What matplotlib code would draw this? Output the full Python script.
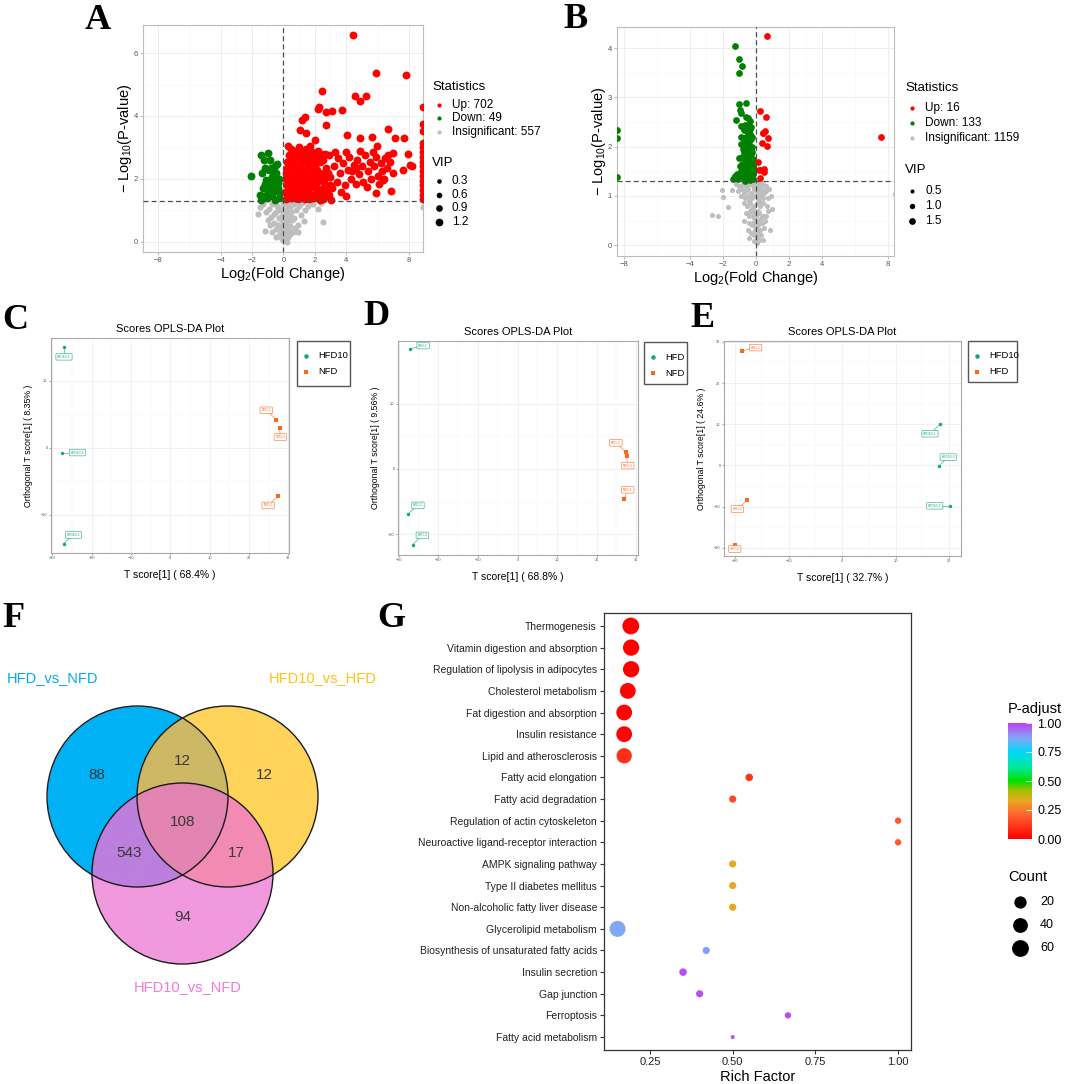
import numpy as np
import matplotlib
matplotlib.use('Agg')
from matplotlib import pyplot as plt
from matplotlib.colors import LinearSegmentedColormap, Normalize, to_rgba
from matplotlib.cm import ScalarMappable
from matplotlib.patches import Circle, Rectangle

plt.rcParams['font.family'] = ['Liberation Sans', 'DejaVu Sans']
plt.rcParams['mathtext.fontset'] = 'custom'
plt.rcParams['mathtext.rm'] = 'Liberation Sans'

SERIF = ['Liberation Serif', 'DejaVu Serif']

# ---------------- data ----------------
# A: volcano HFD vs NFD  (log2 fold change, -log10 p)
a_stats = [702, 49, 557]
a_up = np.array([
    (4.44, 6.56), (5.88, 5.36), (7.79, 5.30), (2.49, 4.80), (4.57, 4.62), (5.25, 4.62), (4.87, 4.47),
    (2.26, 4.29), (2.23, 4.22), (3.12, 4.15), (2.74, 4.13), (3.76, 4.18), (1.19, 3.88), (1.36, 3.97),
    (8.92, 4.29), (8.92, 3.76), (8.92, 3.51), (6.69, 3.59), (2.74, 3.72), (1.05, 3.54), (7.70, 3.31),
    (7.10, 3.31), (5.67, 3.32), (4.04, 3.41), (4.91, 3.30), (2.00, 3.25), (1.47, 3.46), (5.97, 3.04),
    (6.98, 2.83), (7.93, 2.80), (7.60, 2.30), (8.05, 2.43), (8.20, 2.40), (5.88, 1.56), (6.87, 1.61),
    (3.05, 1.32), (4.00, 1.45), (6.35, 1.98), (2.32, 1.34),
    (0.15, 1.35), (0.30, 1.50), (0.20, 1.80), (0.40, 2.10), (0.25, 2.35), (0.50, 1.40), (0.60, 1.70),
    (0.70, 2.00), (0.55, 2.60), (0.80, 2.90), (0.90, 1.35), (1.00, 1.60), (0.85, 2.25), (1.10, 2.50),
    (1.20, 1.90), (1.30, 1.45), (1.40, 2.20), (1.50, 2.75), (1.60, 1.65), (1.70, 3.05), (1.80, 2.00),
    (1.90, 1.40), (2.00, 2.45), (2.10, 1.75), (2.20, 2.90), (2.30, 2.20), (2.40, 1.55), (2.50, 2.60),
    (2.60, 1.90), (2.70, 2.35), (2.80, 1.45), (2.90, 2.75), (3.00, 2.05), (0.35, 2.75), (0.45, 1.95),
    (0.65, 1.55), (0.75, 2.45), (0.95, 2.05), (1.05, 2.85), (1.15, 1.50), (1.25, 2.65), (1.35, 1.75),
    (1.45, 2.95), (1.55, 2.40), (1.65, 1.35), (1.75, 2.55), (1.85, 1.85), (1.95, 2.70), (2.05, 1.55),
    (2.15, 2.30), (2.25, 1.40), (2.35, 2.55), (2.45, 2.00), (2.55, 1.70), (2.65, 2.80), (2.75, 1.65),
    (2.85, 2.20), (2.95, 1.80), (0.20, 2.55), (0.60, 2.30), (1.00, 3.00), (1.30, 2.30), (1.60, 2.05),
    (1.90, 2.25), (2.20, 1.95), (0.50, 1.75), (0.85, 1.85), (1.15, 2.20), (1.50, 1.55), (1.80, 2.85),
    (0.30, 3.05), (0.70, 2.75), (1.10, 1.75), (1.40, 2.55), (1.70, 1.50), (2.00, 2.10), (2.40, 2.80),
    (2.60, 2.20), (0.40, 1.60), (0.90, 2.65),
    (0.12, 1.60), (0.18, 2.00), (0.25, 1.40), (0.35, 1.85), (0.45, 2.40), (0.55, 1.50), (0.65, 2.15),
    (0.75, 1.40), (0.80, 1.65), (0.95, 1.45), (1.05, 2.35), (1.20, 1.60), (1.25, 2.05), (1.35, 1.35),
    (1.45, 1.90), (1.55, 1.45), (1.65, 2.25), (1.75, 1.75), (1.85, 1.50), (2.05, 1.85), (2.15, 2.60),
    (2.30, 1.65), (2.50, 1.35), (2.70, 2.05), (2.90, 1.50), (0.15, 2.20), (0.50, 2.95), (1.20, 2.85),
    (1.60, 2.60), (2.10, 2.75),
    (3.20, 2.40), (3.40, 1.90), (3.50, 2.65), (3.60, 2.20), (3.80, 2.50), (3.90, 1.80), (4.10, 2.30),
    (4.20, 2.70), (4.30, 2.00), (4.50, 2.45), (4.60, 1.85), (4.70, 2.60), (4.80, 2.15), (5.00, 2.40),
    (5.10, 1.90), (5.20, 2.75), (5.40, 2.25), (5.50, 2.55), (5.60, 2.00), (5.80, 2.40), (5.90, 2.70),
    (6.00, 2.10), (6.20, 2.50), (6.30, 2.25), (6.50, 2.65), (6.60, 2.35), (6.80, 2.55), (7.00, 2.20),
    (3.30, 2.85), (3.70, 1.60), (4.00, 2.85), (4.40, 2.25), (4.90, 2.90), (5.30, 1.75), (5.70, 2.85),
    (6.10, 1.85), (6.40, 2.00), (6.70, 2.75), (3.10, 1.70), (4.60, 2.35),
    (8.92, 1.35), (8.92, 1.50), (8.92, 1.65), (8.92, 1.80), (8.92, 1.95), (8.92, 2.10), (8.92, 2.25),
    (8.92, 2.40), (8.92, 2.55), (8.92, 2.70), (8.92, 2.85), (8.92, 3.00), (8.92, 3.15),
])
a_down = np.array([
    (-2.06, 2.08), (-1.43, 2.75), (-0.96, 2.83), (-1.24, 2.61), (-0.43, 2.48), (-0.81, 2.35),
    (-0.64, 2.30), (-0.48, 2.19), (-1.37, 2.19), (-1.11, 1.98), (-0.37, 1.87), (-0.89, 1.77),
    (-0.64, 1.58), (-0.22, 1.56), (-1.24, 1.45), (-1.03, 1.40), (-0.54, 1.34), (-1.40, 1.34),
    (-0.90, 2.30), (-0.75, 2.05), (-0.60, 1.95), (-1.30, 1.70), (-0.30, 1.40), (-0.45, 1.65),
    (-1.00, 1.55), (-0.70, 1.45), (-0.85, 2.60), (-1.15, 2.35), (-0.55, 2.40), (-0.95, 1.90),
    (-0.35, 1.70), (-1.50, 1.50), (-0.25, 2.00), (-0.70, 1.75), (-1.20, 1.85),
])
a_ns = np.array([
    (-1.5, 1.10), (-1.3, 1.20), (-1.1, 0.95), (-1.2, 0.35), (-0.9, 1.05), (-0.8, 0.80), (-0.7, 1.20),
    (-0.6, 0.60), (-0.5, 0.95), (-0.45, 0.40), (-0.4, 1.15), (-0.3, 0.75), (-0.25, 0.20), (-0.2, 1.00),
    (-0.15, 0.50), (-0.1, 0.10), (-0.05, 0.85), (0.0, 0.30), (0.05, 0.65), (0.1, 0.05), (0.15, 1.20),
    (0.2, 0.40), (0.25, 0.90), (0.3, 0.15), (0.35, 0.70), (0.4, 1.10), (0.45, 0.50), (0.5, 0.95),
    (0.6, 0.30), (0.65, 1.20), (0.7, 0.75), (0.8, 1.00), (0.9, 0.55), (1.0, 1.15), (1.1, 0.85),
    (1.2, 1.25), (1.4, 1.00), (1.6, 1.15), (1.9, 1.20), (2.2, 1.05), (2.55, 0.62), (2.4, 1.25),
    (-0.35, 0.55), (-0.1, 0.70), (0.1, 0.90), (0.2, 0.20), (0.05, 0.45), (-0.2, 0.30), (0.3, 1.05),
    (0.15, 0.60), (-0.6, 0.90), (-0.05, 1.20), (0.55, 0.70), (0.75, 0.45), (-0.85, 0.55), (0.0, 0.05),
    (0.1, 0.25), (-0.15, 0.80), (0.35, 0.35), (0.5, 1.20), (-1.0, 0.70), (-0.7, 0.30), (0.95, 0.30),
    (1.3, 0.65), (-1.6, 0.90), (8.92, 1.10), (-0.5, 0.15), (0.25, 0.0), (0.45, 0.85), (-0.3, 1.05),
    (0.1, 0.15), (0.2, 0.55), (-0.1, 0.45), (0.3, 0.80), (0.0, 1.00), (0.4, 0.25),
])
a_vip = [1.25, 1.25, 0.75]          # up, down, insignificant
a_vip_ticks = [0.3, 0.6, 0.9, 1.2]

# B: volcano HFD10 vs HFD
b_stats = [16, 133, 1159]
b_up = np.array([
    (0.69, 4.24), (0.26, 2.73), (0.63, 2.61), (0.55, 2.31), (0.42, 2.27), (0.71, 2.17), (0.38, 2.07),
    (0.65, 2.01), (0.12, 1.68), (0.26, 1.53), (0.48, 1.54), (0.51, 1.49), (0.22, 1.36), (7.60, 2.20),
    (0.45, 2.28), (0.18, 1.52),
])
b_down = np.array([
    (-1.27, 4.04), (-1.05, 3.79), (-0.83, 3.63), (-1.05, 3.50), (-1.03, 2.87), (-0.63, 2.89),
    (-0.99, 2.75), (-0.89, 2.68), (-1.21, 2.54), (-0.34, 2.52), (-0.48, 2.58), (-0.93, 2.41),
    (-0.75, 2.33), (-0.42, 2.27), (-0.59, 2.20), (-0.93, 2.05), (-0.48, 2.00), (-1.03, 1.78),
    (-0.69, 1.80), (-8.45, 2.33), (-8.45, 2.18), (-8.45, 1.39),
    (-0.2, 1.35), (-0.3, 1.40), (-0.45, 1.35), (-0.6, 1.40), (-0.8, 1.38), (-1.1, 1.35), (-1.3, 1.40),
    (-0.25, 1.50), (-0.4, 1.55), (-0.55, 1.50), (-0.7, 1.60), (-0.9, 1.50), (-1.15, 1.45), (-0.2, 1.65),
    (-0.35, 1.70), (-0.5, 1.65), (-0.65, 1.75), (-0.85, 1.65), (-0.3, 1.85), (-0.45, 1.90), (-0.6, 1.85),
    (-0.8, 1.95), (-0.25, 2.00), (-0.4, 2.10), (-0.55, 2.05), (-0.7, 2.15), (-0.35, 2.25), (-0.5, 2.30),
    (-0.3, 2.40), (-0.65, 2.45), (-0.2, 1.45), (-0.38, 1.60), (-0.52, 1.78), (-0.28, 1.95), (-0.42, 1.45),
    (-0.62, 1.55), (-0.75, 1.45), (-0.95, 1.60), (-0.33, 2.15), (-0.47, 2.45), (-0.18, 1.75), (-0.58, 1.95),
    (-0.72, 1.90), (-0.4, 1.80), (-0.25, 2.20), (-0.55, 2.20), (-0.85, 1.80), (-1.0, 1.45), (-0.65, 1.30),
    (-0.35, 1.32), (-0.45, 2.00), (-0.3, 1.60), (-0.5, 1.42), (-0.22, 1.90), (-0.6, 2.60), (-0.38, 2.35),
    (-0.7, 2.05), (-0.9, 2.20), (-1.4, 1.35), (-0.15, 1.55),
])
b_ns = np.array([
    (-2.08, 1.13), (-1.98, 0.98), (-1.45, 1.12), (-1.68, 0.78), (-2.65, 0.61), (-2.3, 0.59), (0.83, 0.31),
    (0.95, 0.73), (8.40, 1.03),
    (-1.2, 1.25), (-1.0, 1.20), (-0.8, 1.25), (-0.6, 1.20), (-0.4, 1.25), (-0.2, 1.20), (0.0, 1.25),
    (0.2, 1.20), (0.4, 1.25), (0.6, 1.20), (0.8, 1.15), (-0.9, 1.00), (-0.7, 1.05), (-0.5, 1.00),
    (-0.3, 1.05), (-0.1, 1.00), (0.1, 1.05), (0.3, 1.00), (0.5, 1.05), (0.7, 0.95), (-0.75, 0.85),
    (-0.55, 0.80), (-0.35, 0.85), (-0.15, 0.80), (0.05, 0.85), (0.25, 0.80), (0.45, 0.85), (0.65, 0.80),
    (-0.6, 0.65), (-0.4, 0.60), (-0.2, 0.65), (0.0, 0.60), (0.2, 0.65), (0.4, 0.60), (0.6, 0.60),
    (-0.45, 0.45), (-0.25, 0.40), (-0.05, 0.45), (0.15, 0.40), (0.35, 0.45), (-0.3, 0.25), (-0.1, 0.20),
    (0.1, 0.25), (0.3, 0.20), (-0.15, 0.08), (0.05, 0.05), (0.2, 0.10), (-0.5, 0.30), (0.5, 0.35),
    (-0.65, 0.95), (-1.1, 1.10), (0.9, 1.00), (-0.85, 1.15), (0.75, 0.70), (-0.5, 1.15), (-0.25, 0.95),
    (0.15, 0.95), (0.35, 1.15), (-0.05, 0.70), (0.1, 0.50), (-0.35, 0.70), (-0.15, 0.55), (0.25, 0.30),
    (-0.4, 0.15), (0.4, 0.10), (-0.7, 0.50), (0.55, 0.50), (0.0, 1.10), (-0.3, 1.28), (0.3, 1.28),
    (-0.1, 1.15), (0.1, 1.15), (-0.3, 0.95), (0.2, 0.90), (-0.2, 0.45), (0.0, 0.35), (0.1, 0.70),
    (-0.1, 0.60), (0.3, 0.55), (-0.25, 0.75), (0.05, 0.15), (-0.05, 0.30), (0.15, 0.20), (0.45, 0.95),
    (-0.45, 0.90), (0.6, 1.10), (-0.6, 1.10), (0.25, 1.10), (-0.15, 1.28), (0.15, 1.28),
])
b_vip = [1.5, 1.5, 0.9]
b_vip_ticks = [0.5, 1.0, 1.5]

# C, D, E: OPLS-DA scores (t1, to1)
c_groups = ['HFD10', 'NFD']
c_names = [['HFD10-1', 'HFD10-3', 'HFD10-2'], ['NFD-2', 'NFD-3', 'NFD-1']]
c_scores = [np.array([(-27.0, 15.0), (-27.5, -0.7), (-27.1, -14.3)]),
            np.array([(27.0, 4.2), (27.8, 2.9), (27.5, -7.2)])]
c_var = ('68.4', '8.35')

d_groups = ['HFD', 'NFD']
d_names = [['HFD-1', 'HFD-2', 'HFD-3'], ['NFD-2', 'NFD-3', 'NFD-1']]
d_scores = [np.array([(-27.1, 18.4), (-27.7, -6.9), (-26.5, -11.6)]),
            np.array([(27.4, 2.6), (27.6, 1.95), (27.0, -4.6)])]
d_var = ('68.8', '9.56')

e_groups = ['HFD10', 'HFD']
e_names = [['HFD10-1', 'HFD10-3', 'HFD10-2'], ['HFD-1', 'HFD-2', 'HFD-3']]
e_scores = [np.array([(18.3, 10.0), (18.0, -0.2), (20.1, -9.8)]),
            np.array([(-18.7, 27.8), (-17.8, -8.5), (-20.0, -19.4)])]
e_var = ('32.7', '24.6')

# F: Venn (bit 1 = HFD_vs_NFD, 2 = HFD10_vs_HFD, 4 = HFD10_vs_NFD)
venn_sets = ['HFD_vs_NFD', 'HFD10_vs_HFD', 'HFD10_vs_NFD']
venn_counts = {1: 88, 2: 12, 3: 12, 4: 94, 5: 543, 6: 17, 7: 108}

# G: KEGG enrichment
pathways = ['Thermogenesis', 'Vitamin digestion and absorption', 'Regulation of lipolysis in adipocytes',
            'Cholesterol metabolism', 'Fat digestion and absorption', 'Insulin resistance',
            'Lipid and atherosclerosis', 'Fatty acid elongation', 'Fatty acid degradation',
            'Regulation of actin cytoskeleton', 'Neuroactive ligand-receptor interaction',
            'AMPK signaling pathway', 'Type II diabetes mellitus', 'Non-alcoholic fatty liver disease',
            'Glycerolipid metabolism', 'Biosynthesis of unsaturated fatty acids', 'Insulin secretion',
            'Gap junction', 'Ferroptosis', 'Fatty acid metabolism']
rich_factor = [0.192, 0.193, 0.193, 0.183, 0.172, 0.172, 0.172, 0.55, 0.50, 1.00,
               1.00, 0.50, 0.50, 0.50, 0.152, 0.42, 0.35, 0.40, 0.667, 0.50]
path_count = [60, 55, 55, 50, 50, 50, 45, 6, 5, 4, 4, 5, 5, 5, 52, 5, 6, 5, 4, 1]
p_adjust = [0.0, 0.0, 0.0, 0.01, 0.01, 0.01, 0.1, 0.11, 0.15, 0.18, 0.18,
            0.33, 0.33, 0.33, 0.87, 0.88, 0.98, 0.98, 0.98, 0.97]
count_ticks = [20, 40, 60]
padj_ticks = [0.0, 0.25, 0.5, 0.75, 1.0]

# ---------------- styles ----------------
UP, DOWN, NS = '#FF0000', '#008000', '#BEBEBE'
GREEN, ORANGE = '#14A57E', '#FA6A1E'
venn_fill = ['#FFFFFF00', '#00B2F5', '#FFD45A', '#CDB865', '#F199DE', '#BC7FDD', '#F38BB3', '#E384B2']
padj_cmap = LinearSegmentedColormap.from_list('padj', [
    (0.0, '#FF0000'), (0.2, '#FF6030'), (0.33, '#E8A820'), (0.42, '#A0C000'), (0.5, '#00E000'),
    (0.62, '#00E8A0'), (0.75, '#00D8F8'), (0.87, '#7FA8F5'), (1.0, '#C040F0')])

W, H = 1065, 1084
fig = plt.figure(figsize=(W / 100, H / 100), dpi=100)


def px_axes(left, top, right, bottom, **kw):
    return fig.add_axes([left / W, 1 - bottom / H, (right - left) / W, (bottom - top) / H], **kw)


def pt2(d_px):
    # marker diameter in pixels -> scatter area in points^2
    return (np.asarray(d_px) * 0.72) ** 2


def count_diam(c):
    return np.interp(c, [1, 5, 20, 40, 60], [4.0, 7.2, 12.3, 14.8, 16.8])


def volcano(ax, up, down, ns, vips, vsize, xlim, ylim, yticks, yminor):
    for pts, col, vip in ((ns, NS, vips[2]), (down, DOWN, vips[1]), (up, UP, vips[0])):
        ax.scatter(pts[:, 0], pts[:, 1], s=pt2(vsize(vip)), color=col, linewidths=0, zorder=3)
    ax.axvline(0, color='#4D4D4D', ls=(0, (4, 2.5)), lw=0.9, zorder=4)
    ax.axhline(1.3, color='#4D4D4D', ls=(0, (4, 2.5)), lw=0.9, zorder=4)
    ax.set_xlim(*xlim)
    ax.set_ylim(*ylim)
    ax.set_xticks([-8, -4, -2, 0, 2, 4, 8])
    ax.set_xticks([-6, -3, -1, 1, 3, 6], minor=True)
    ax.set_yticks(yticks)
    ax.set_yticks(yminor, minor=True)
    ax.grid(which='major', color='#EBEBEB', lw=0.6)
    ax.grid(which='minor', color='#F5F5F5', lw=0.4)
    ax.set_axisbelow(True)
    for s in ax.spines.values():
        s.set_color('#BDBDBD')
    ax.tick_params(which='major', length=2, color='#BDBDBD', labelsize=5.5, labelcolor='#555555', pad=1.5)
    ax.tick_params(which='minor', length=0)
    ax.set_xlabel('Log$_2$(Fold Change)', fontsize=10.5, labelpad=1)
    ax.set_ylabel('\u2212 Log$_{10}$(P-value)', fontsize=10.5, labelpad=0)


def opls(ax, scores, names, label_at, xlim, ylim, xticks, yticks, var):
    for pts, nm, lab, col, mk in zip(scores, names, label_at, (GREEN, ORANGE), ('o', 's')):
        ax.scatter(pts[:, 0], pts[:, 1], s=pt2(3.4), color=col, marker=mk, linewidths=0, zorder=3)
        for (x, y), n, (lx, ly) in zip(pts, nm, lab):
            ax.plot([x, lx], [y, ly], color=col, lw=0.4, zorder=2)
            ax.text(lx, ly, n, fontsize=2.4, color=col, ha='center', va='center', zorder=4,
                    bbox=dict(boxstyle='round,pad=0.4,rounding_size=0.25', fc='white', ec=col, lw=0.4))
    ax.set_xlim(*xlim)
    ax.set_ylim(*ylim)
    ax.set_xticks(xticks)
    ax.set_yticks(yticks)
    ax.set_xticks([(a + b) / 2 for a, b in zip(xticks[:-1], xticks[1:])], minor=True)
    ax.set_yticks([(a + b) / 2 for a, b in zip(yticks[:-1], yticks[1:])], minor=True)
    ax.grid(which='major', color='#EBEBEB', lw=0.5)
    ax.grid(which='minor', color='#F5F5F5', lw=0.35)
    ax.set_axisbelow(True)
    for s in ax.spines.values():
        s.set_color('#A8A8A8')
    ax.tick_params(which='major', length=1.5, color='#A8A8A8', labelsize=2.8, labelcolor='#555555', pad=1)
    ax.tick_params(which='minor', length=0)
    ax.set_title('Scores OPLS-DA Plot', fontsize=8, pad=4)
    ax.set_xlabel(f'T score[1] ( {var[0]}% )', fontsize=7.5, labelpad=7)
    ax.set_ylabel(f'Orthogonal T score[1] ( {var[1]}% )', fontsize=6.3, labelpad=6)


# ---- A, B volcano plots
ax_a = px_axes(143, 25, 423, 252)
volcano(ax_a, a_up, a_down, a_ns, a_vip, lambda v: 3.5 + 3.5 * v,
        (-8.95, 8.9), (-0.32, 6.89), [0, 2, 4, 6], [1, 3, 5])
ax_b = px_axes(617, 27, 894, 256)
volcano(ax_b, b_up, b_down, b_ns, b_vip, lambda v: 2.7 + 2.7 * v,
        (-8.42, 8.36), (-0.22, 4.43), [0, 1, 2, 3, 4], [0.5, 1.5, 2.5, 3.5])

# ---- C, D, E OPLS-DA
ax_c = px_axes(51, 338, 289, 553)
opls(ax_c, c_scores, c_names,
     [[(-27.0, 13.6), (-23.6, -0.7), (-24.6, -13.0)], [(24.4, 5.6), (28.0, 1.6), (24.9, -8.6)]],
     (-30.3, 30.2), (-15.7, 16.4), [-30, -20, -10, 0, 10, 20, 30], [-10, 0, 10], c_var)
ax_d = px_axes(398, 341, 638, 555)
opls(ax_d, d_scores, d_names,
     [[(-23.9, 18.9), (-25.2, -5.6), (-24.1, -10.2)], [(24.9, 4.0), (27.9, 0.5), (27.9, -3.2)]],
     (-30.25, 30.5), (-13.2, 19.6), [-30, -20, -10, 0, 10, 20, 30], [-10, 0, 10], d_var)
ax_e = px_axes(724, 341, 961, 556)
opls(ax_e, e_scores, e_names,
     [[(16.4, 7.7), (19.8, 2.0), (17.3, -9.8)], [(-16.2, 28.6), (-19.6, -10.6), (-20.1, -20.3)]],
     (-22.1, 22.2), (-22.0, 30.2), [-20, -10, 0, 10, 20], [-20, -10, 0, 10, 20, 30], e_var)

# ---- F Venn
ax_f = px_axes(0, 640, 400, 1010)
centers = [(137.5, 796.5), (227.5, 796.5), (182.5, 873.5)]
radius = 90.5
gx = np.linspace(0, 400, 1601)
gy = np.linspace(640, 1010, 1481)
X, Y = np.meshgrid(gx, gy)
code = np.zeros(X.shape, dtype=int)
for k, (cx, cy) in enumerate(centers):
    code += ((X - cx) ** 2 + (Y - cy) ** 2 <= radius ** 2).astype(int) << k
rgba = np.array([to_rgba(c) for c in venn_fill])
ax_f.imshow(rgba[code], extent=(0, 400, 1010, 640), interpolation='antialiased', aspect='auto', zorder=1)
for cx, cy in centers:
    ax_f.add_patch(Circle((cx, cy), radius, fill=False, ec='#1A1A1A', lw=1.0, zorder=3))
for k, n in venn_counts.items():
    m = code == k
    ax_f.text(X[m].mean() - (3 if k == 1 else 0), Y[m].mean(), str(n), fontsize=11, color='#3A3A3A',
              ha='center', va='center', zorder=4)
ax_f.set_xlim(0, 400)
ax_f.set_ylim(1010, 640)
ax_f.axis('off')
for name, (x, y), col in zip(venn_sets, [(7, 678), (269, 678), (134, 987)], ['#00A9F0', '#FFC20E', '#EE7ADA']):
    ax_f.text(x, y, name, fontsize=10.5, color=col, ha='left', va='center')

# ---- G enrichment bubble plot
ax_g = px_axes(604, 613, 911, 1050)
ypos = np.arange(len(pathways))
ax_g.scatter(rich_factor, ypos, s=pt2(count_diam(path_count)), c=p_adjust, cmap=padj_cmap,
             vmin=0, vmax=1, linewidths=0, zorder=3)
ax_g.set_xlim(0.111, 1.039)
ax_g.set_ylim(len(pathways) - 0.4, -0.6)
ax_g.set_yticks(ypos)
ax_g.set_yticklabels(pathways, fontsize=7.5)
ax_g.set_xticks([0.25, 0.5, 0.75, 1.0])
ax_g.set_xticklabels(['0.25', '0.50', '0.75', '1.00'], fontsize=8)
ax_g.tick_params(length=3, color='#333333', labelcolor='#222222', pad=2)
for s in ax_g.spines.values():
    s.set_color('#333333')
    s.set_linewidth(0.9)
ax_g.set_xlabel('Rich Factor', fontsize=10.5, labelpad=2)

ax_cb = px_axes(1008, 723, 1032, 839)
cb = fig.colorbar(ScalarMappable(Normalize(0, 1), padj_cmap), cax=ax_cb, ticks=padj_ticks)
cb.outline.set_visible(False)
cb.ax.set_yticklabels([f'{t:.2f}' for t in padj_ticks])
cb.ax.tick_params(length=4, width=0.6, color='white', direction='in', labelsize=9, pad=4)

# ---- overlay: panel letters and hand-placed legends
ov = fig.add_axes([0, 0, 1, 1], zorder=10)
ov.set_xlim(0, W)
ov.set_ylim(H, 0)
ov.axis('off')
ov.patch.set_alpha(0)

for letter, (x, y) in zip('ABCDEFG', [(85, 29), (563, 28), (2, 329), (363, 325), (690, 327), (2, 627), (377, 627)]):
    ov.text(x, y, letter, fontfamily=SERIF, fontweight='bold', fontsize=26, ha='left', va='baseline')


def volcano_legend(x, y_title, y_items, y_vip, y_vip_items, stats, vip_ticks, vsize):
    ov.text(x, y_title, 'Statistics', fontsize=9.5, va='center')
    labels = [f'Up: {stats[0]}', f'Down: {stats[1]}', f'Insignificant: {stats[2]}']
    for yy, lab, col in zip(y_items, labels, (UP, DOWN, NS)):
        ov.scatter(x + 7, yy, s=pt2(4.2), color=col, linewidths=0)
        ov.text(x + 20, yy, lab, fontsize=8.5, va='center')
    ov.text(x, y_vip, 'VIP', fontsize=9.5, va='center')
    for yy, v in zip(y_vip_items, vip_ticks):
        ov.scatter(x + 7, yy, s=pt2(vsize(v)), color='black', linewidths=0)
        ov.text(x + 20, yy, f'{v:.1f}', fontsize=8.5, va='center')


volcano_legend(432, 87, [105, 118, 132], 163, [181, 195, 208, 222], a_stats, a_vip_ticks,
               lambda v: 3.5 + 3.5 * v)
volcano_legend(905, 88, [108, 123, 138], 170, [191, 206, 221], b_stats, b_vip_ticks,
               lambda v: 2.7 + 2.7 * v)


def opls_legend(x0, y0, w, h, groups):
    ov.add_patch(Rectangle((x0, y0), w, h, fill=False, ec='#555555', lw=1.0))
    for i, (g, col, mk) in enumerate(zip(groups, (GREEN, ORANGE), ('o', 's'))):
        yy = y0 + 15 + i * 16
        ov.scatter(x0 + 9, yy, s=pt2(4.5), color=col, marker=mk, linewidths=0)
        ov.text(x0 + 21, yy, g, fontsize=6.8, va='center')


opls_legend(297, 341, 53, 45, c_groups)
opls_legend(644, 342, 43, 42, d_groups)
opls_legend(968, 341, 49, 41, e_groups)

ov.text(1008, 709, 'P-adjust', fontsize=10.5, va='center')
ov.text(1008, 877, 'Count', fontsize=10.5, va='center')
for yy, c in zip([902, 925, 948], count_ticks):
    ov.scatter(1020, yy, s=pt2(count_diam(c)), color='black', linewidths=0)
    ov.text(1040, yy, str(c), fontsize=9, va='center')

fig.savefig('out.png', dpi=100)
